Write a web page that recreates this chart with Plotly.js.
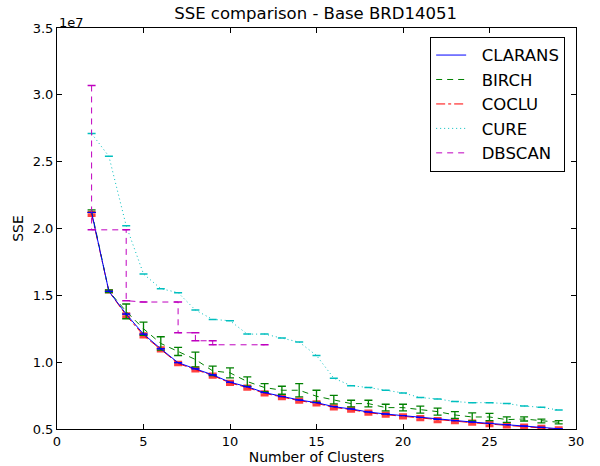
<!DOCTYPE html>
<html>
<head>
<meta charset="utf-8">
<script src="https://cdn.plot.ly/plotly-3.0.1.min.js"></script>
<style>html,body{margin:0;padding:0;background:#fff;}#chart{width:600px;height:466px;}</style>
</head>
<body>
<div id="chart"></div>
<script>
// Values in units of 1e7
const clusters = [2,3,4,5,6,7,8,9,10,11,12,13,14,15,16,17,18,19,20,21,22,23,24,25,26,27,28,29];
const clarans = [2.12,1.53,1.36,1.21,1.10,0.996,0.95,0.905,0.85,0.816,0.772,0.742,0.717,0.697,0.667,0.65,0.627,0.612,0.600,0.587,0.572,0.562,0.552,0.542,0.532,0.522,0.513,0.502];
const birch = [2.13,1.53,1.38,1.25,1.14,1.08,1.02,0.935,0.92,0.855,0.81,0.79,0.79,0.745,0.72,0.69,0.69,0.66,0.66,0.645,0.63,0.605,0.59,0.59,0.57,0.575,0.56,0.55];
const birchErr = [0.01,0.01,0.055,0.05,0.05,0.03,0.055,0.035,0.037,0.035,0.03,0.03,0.05,0.045,0.032,0.025,0.025,0.025,0.025,0.026,0.026,0.025,0.03,0.027,0.02,0.015,0.014,0.012];
const coclu = [2.11,1.53,1.35,1.20,1.095,0.99,0.945,0.90,0.845,0.81,0.767,0.737,0.712,0.692,0.662,0.645,0.622,0.607,0.595,0.582,0.567,0.557,0.547,0.537,0.527,0.517,0.508,0.498];
const cocluErr = [0.012,0.005,0.012,0.012,0.012,0.01,0.012,0.012,0.012,0.012,0.012,0.01,0.012,0.012,0.012,0.012,0.012,0.012,0.012,0.012,0.012,0.01,0.012,0.012,0.012,0.012,0.012,0.012];
const cure = [2.71,2.54,2.02,1.66,1.55,1.52,1.39,1.32,1.31,1.21,1.21,1.18,1.15,1.05,0.88,0.824,0.81,0.79,0.77,0.735,0.725,0.705,0.697,0.697,0.69,0.672,0.662,0.642];
const dbscanX = [2,2,4,4,5,7,7,8,8,9,9,12];
const dbscanY = [3.07,1.99,1.99,1.46,1.45,1.45,1.22,1.22,1.16,1.16,1.13,1.13];
const zeros = n => new Array(n).fill(0);
const pad = s => '\u00a0\u00a0' + s;

const font = {family: 'DejaVu Sans, sans-serif', color: '#000'};

const traces = [
  {x: clusters, y: coclu, name: pad('COCLU'), type: 'scatter', mode: 'lines', legendrank: 3,
   line: {color: '#ff0000', width: 1, dash: 'dashdot'},
   error_y: {type: 'data', array: cocluErr, color: 'rgba(255,0,0,0.75)', thickness: 3, width: 4}},
  {x: clusters, y: birch, name: pad('BIRCH'), type: 'scatter', mode: 'lines', legendrank: 2,
   line: {color: '#008000', width: 1, dash: '6px,5px'},
   error_y: {type: 'data', array: birchErr, color: '#008000', thickness: 1.3, width: 4}},
  {x: clusters, y: clarans, name: pad('CLARANS'), type: 'scatter', mode: 'lines', legendrank: 1,
   line: {color: '#0000ff', width: 1},
   error_y: {type: 'data', array: zeros(clusters.length), color: '#0000ff', thickness: 1, width: 4}},
  {x: clusters, y: cure, name: pad('CURE'), type: 'scatter', mode: 'lines', legendrank: 4,
   line: {color: '#00bfbf', width: 1, dash: '1px,3px'},
   error_y: {type: 'data', array: zeros(clusters.length), color: '#00bfbf', thickness: 1.5, width: 4}},
  {x: dbscanX, y: dbscanY, name: pad('DBSCAN'), type: 'scatter', mode: 'lines', legendrank: 5,
   line: {color: '#bf00bf', width: 1, dash: '6px,5px'},
   error_y: {type: 'data', array: zeros(dbscanX.length), color: '#bf00bf', thickness: 1.5, width: 4}}
];

const axisCommon = {
  showgrid: false, zeroline: false, showline: true, linecolor: '#000', linewidth: 1,
  mirror: 'ticks', ticks: 'inside', ticklen: 5, tickcolor: '#000', tickwidth: 1,
  tickfont: Object.assign({size: 13}, font)
};

const layout = {
  width: 600, height: 466,
  margin: {l: 57, r: 24, t: 28, b: 37},
  paper_bgcolor: '#fff', plot_bgcolor: '#fff',
  font: font,
  title: {text: 'SSE comparison - Base BRD14051', font: Object.assign({size: 16.5}, font),
          x: 0.526, xanchor: 'center', y: 0.972, yanchor: 'middle'},
  xaxis: Object.assign({}, axisCommon, {range: [0, 30], tickvals: [0,5,10,15,20,25,30],
          title: {text: 'Number of Clusters', font: Object.assign({size: 14}, font), standoff: 3}}),
  yaxis: Object.assign({}, axisCommon, {range: [0.5, 3.5], tickvals: [0.5,1,1.5,2,2.5,3,3.5], tickformat: '.1f',
          title: {text: 'SSE', font: Object.assign({size: 14}, font), standoff: 5}}),
  showlegend: true,
  legend: {x: 0.719, y: 0.978, xanchor: 'left', yanchor: 'top', bgcolor: '#fff',
           bordercolor: '#000', borderwidth: 1, font: Object.assign({size: 16.5}, font),
           traceorder: 'normal', itemwidth: 30, tracegroupgap: 0},
  annotations: [{text: '1e7', xref: 'paper', yref: 'paper', x: 0, y: 1, xanchor: 'left', yanchor: 'bottom',
                 showarrow: false, font: Object.assign({size: 13}, font), yshift: -4}]
};

Plotly.newPlot('chart', traces, layout, {displayModeBar: false, staticPlot: true});
</script>
</body>
</html>
